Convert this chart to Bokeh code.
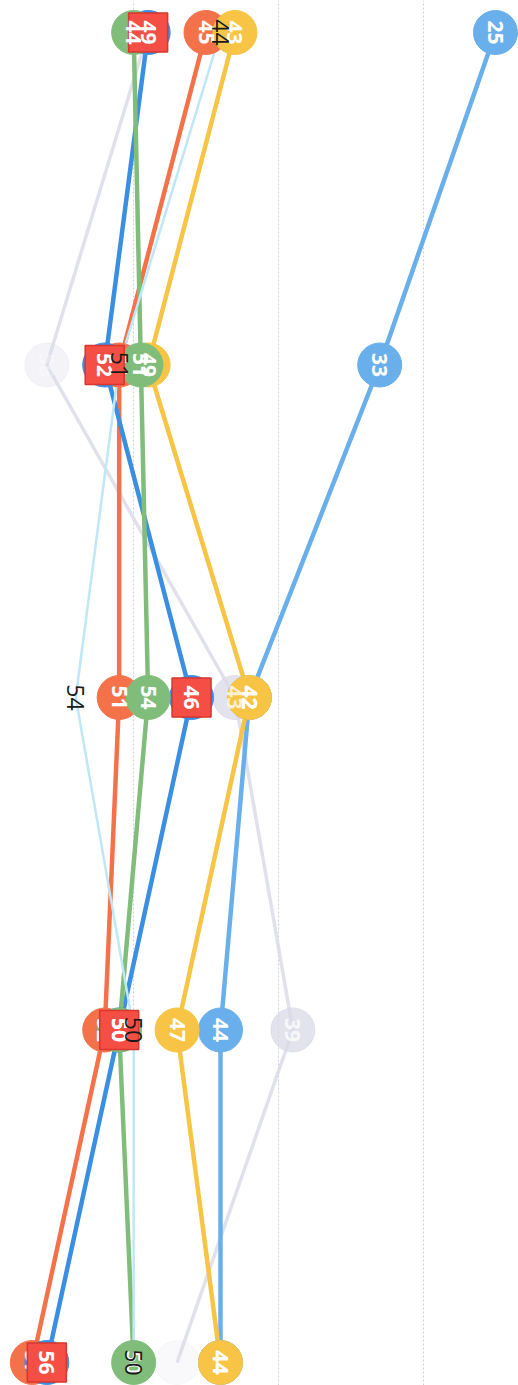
import math
from bokeh.plotting import figure
from bokeh.models import Range1d, FixedTicker
from bokeh.core.properties import value
from bokeh.embed import file_html
from bokeh.resources import INLINE

# categories listed bottom -> top
categories = ["1", "2", "3", "4", "5"]

grey_vals = [47, 39, 43, 56, 49]
grey_labels = ["47", "39", "43", "56", "49"]
lightblue_vals = [44, 44, 42, 33, 25]
lightblue_labels = ["44", "44", "42", "33", "25"]
orange_vals = [57, 52, 51, 51, 45]
orange_labels = ["57", "52", "51", "51", "45"]
yellow_vals = [44, 47, 42, 49, 43]
yellow_labels = ["44", "47", "42", "49", "43"]
blue_vals = [56, 51, 46, 52, 49]
blue_labels = ["56", "51", "46", "52", "49"]
green_vals = [50, 51, 49, 49.5, 50]
green_labels = ["50", "50", "54", "51", "44"]
cyan_vals = [50, 50, 54, 51, 44]
cyan_labels = ["50", "50", "54", "51", "44"]
square_vals = [56, 51, 46, 52, 49]
square_labels = ["56", "50", "46", "52", "49"]

grid_ticks = [30, 40, 50]

ypos = list(range(len(categories)))

# faintness of the grey series' markers (styling, per point)
grey_marker_alpha = [0.15, 0.75, 0.75, 0.3, 0.75]

p = figure(width=518, height=1385, output_backend="svg", toolbar_location=None,
           x_range=Range1d(59.20, 23.41), y_range=Range1d(-0.0692, 4.0962),
           min_border=0, min_border_left=0, min_border_right=0,
           min_border_top=0, min_border_bottom=0)
p.outline_line_color = None
p.background_fill_color = "#ffffff"
p.border_fill_color = "#ffffff"
p.xaxis.visible = False
p.yaxis.visible = False
p.xaxis.ticker = FixedTicker(ticks=grid_ticks)
p.xgrid.ticker = FixedTicker(ticks=grid_ticks)
p.xgrid.grid_line_color = "#cfcfdc"
p.xgrid.grid_line_dash = "2 2"
p.xgrid.grid_line_width = 1
p.ygrid.grid_line_color = None

ANG = -math.pi / 2
LABEL_SIZE = "21px"

circle_series = [
    (grey_vals, grey_labels, "#d9d9e7", 3.5, grey_marker_alpha),
    (lightblue_vals, lightblue_labels, "#69afeb", 4.5, 1.0),
    (orange_vals, orange_labels, "#f4724a", 4.5, 1.0),
    (yellow_vals, yellow_labels, "#f7c445", 4.5, 1.0),
    (blue_vals, blue_labels, "#3b8fe3", 4.5, 1.0),
    (green_vals, green_labels, "#80bd7b", 4.5, 1.0),
]

# lines
for vals, labs, col, lw, a in circle_series:
    p.line(vals, ypos, line_color=col, line_width=lw,
           line_alpha=0.8 if isinstance(a, list) else a)
p.line(cyan_vals, ypos, line_color="#bfe7f7", line_width=2.5)

# circles
for vals, labs, col, lw, a in circle_series:
    p.scatter(vals, ypos, marker="circle", size=44, fill_color=col,
              line_color=col, fill_alpha=a, line_alpha=a)


def add_labels(vals, labs, color="white", bold=True, size=LABEL_SIZE, alpha=1.0):
    p.text(vals, ypos, text=labs, angle=ANG, text_color=color, text_alpha=alpha,
           text_font=value("Open Sans"),
           text_font_style="bold" if bold else "normal",
           text_font_size=size, text_align="center", text_baseline="middle")


# circle labels (all but green, which sits above the squares)
for vals, labs, col, lw, a in circle_series[:-1]:
    add_labels(vals, labs, alpha=a)

# red squares
p.scatter(square_vals, ypos, marker="square", size=39, fill_color="#f44e45",
          line_color="#d8362f", line_width=1.5)
add_labels(square_vals, square_labels)

# green labels
add_labels(green_vals, green_labels)

# cyan series labels (no markers)
add_labels(cyan_vals, cyan_labels, color="#1a1a1a", bold=False, size="23px")

open("out.html", "w").write(file_html(p, INLINE))
